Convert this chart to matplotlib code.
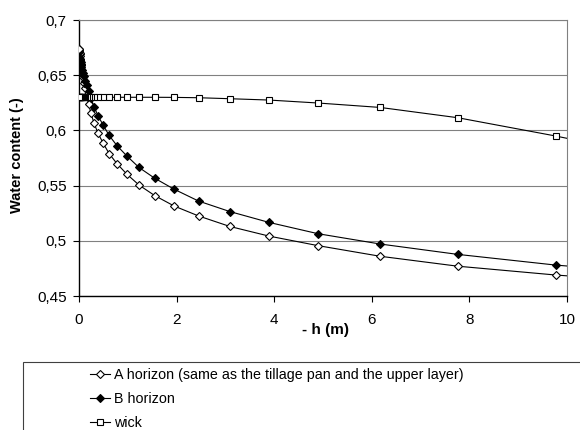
import matplotlib
matplotlib.use("Agg")
import matplotlib.pyplot as plt
from matplotlib.lines import Line2D
from matplotlib.patches import Rectangle
from matplotlib.ticker import FuncFormatter

# suction head -h (m); last point lies past the axis limit
H = [12.3, 9.77, 7.76, 6.17, 4.90, 3.89, 3.09, 2.45, 1.95, 1.55,
     1.23, 0.977, 0.776, 0.617, 0.490, 0.389, 0.309, 0.245, 0.195, 0.155,
     0.123, 0.0977, 0.0776, 0.0617, 0.0490, 0.0389, 0.0309, 0.0245, 0.0195, 0.0155,
     0.0123, 0.0098, 0.0078, 0.0062, 0.0049, 0.0039]

A_HORIZON = [0.461, 0.469, 0.477, 0.486, 0.4956, 0.5043, 0.513, 0.5225, 0.5315, 0.541,
             0.5505, 0.5605, 0.570, 0.579, 0.5888, 0.5975, 0.6064, 0.6155, 0.624, 0.632,
             0.638, 0.643, 0.648, 0.652, 0.656, 0.659, 0.662, 0.665, 0.667, 0.669,
             0.670, 0.671, 0.672, 0.673, 0.6735, 0.674]

B_HORIZON = [0.469, 0.478, 0.4877, 0.4971, 0.5064, 0.5167, 0.5265, 0.536, 0.5467, 0.5567,
             0.5664, 0.577, 0.5863, 0.5955, 0.6052, 0.6133, 0.6215, 0.629, 0.6355, 0.641,
             0.645, 0.649, 0.652, 0.655, 0.657, 0.659, 0.6605, 0.662, 0.663, 0.664,
             0.6645, 0.665, 0.6653, 0.6656, 0.6658, 0.666]

WICK = [0.572, 0.5949, 0.6115, 0.6208, 0.6248, 0.6275, 0.6287, 0.6296, 0.6299, 0.630,
        0.630, 0.630, 0.630, 0.630, 0.630, 0.630, 0.630, 0.630, 0.630, 0.630,
        0.630, 0.630, 0.630, 0.630, 0.630, 0.630, 0.630, 0.630, 0.630, 0.630,
        0.630, 0.630, 0.630, 0.630, 0.630, 0.630]

LABELS = ["A horizon (same as the tillage pan and the upper layer)",
          "B horizon",
          "wick"]

X_TICKS = [0, 2, 4, 6, 8, 10]
Y_TICKS = [0.45, 0.5, 0.55, 0.6, 0.65, 0.7]

plt.rcParams["font.family"] = ["Liberation Sans", "DejaVu Sans"]

fig = plt.figure(figsize=(5.8, 4.3), dpi=100)
ax = fig.add_axes([79 / 580, 1 - 296 / 430, (567 - 79) / 580, (296 - 20) / 430])

styles = [
    dict(marker="D", mfc="white", mec="black", ms=4.2),
    dict(marker="D", mfc="black", mec="black", ms=4.2),
    dict(marker="s", mfc="white", mec="black", ms=4.8),
]
series = [A_HORIZON, B_HORIZON, WICK]

for values, st in zip(series, styles):
    ax.plot(H, values, color="black", lw=0.8, mew=0.8, zorder=3, **st)

ax.set_xlim(0, 10)
ax.set_ylim(0.45, 0.7)
ax.set_xticks(X_TICKS)
ax.set_yticks(Y_TICKS)
ax.yaxis.set_major_formatter(FuncFormatter(lambda v, p: f"{v:g}".replace(".", ",")))
ax.tick_params(direction="out", length=4, width=0.8, labelsize=11, color="black")
ax.tick_params(axis="x", pad=8)
ax.tick_params(axis="y", pad=5)

ax.grid(axis="y", color="#808080", lw=0.8, zorder=1)
for side in ("top", "right"):
    ax.spines[side].set_color("#808080")
    ax.spines[side].set_linewidth(0.8)
for side in ("left", "bottom"):
    ax.spines[side].set_color("black")
    ax.spines[side].set_linewidth(1.0)

fig.text(17 / 580, 1 - 155 / 430, "Water content (-)", rotation=90,
         ha="center", va="center", fontsize=10.5, fontweight="bold")
fig.text(325 / 580, 1 - 330 / 430, "- h (m)", ha="center", va="center",
         fontsize=11, fontweight="bold")

# legend box runs off the right and bottom edges of the picture
fig.patches.append(Rectangle((23 / 580, -0.1), 1.0, (430 - 362) / 430 + 0.1,
                             transform=fig.transFigure, fill=False,
                             ec="#404040", lw=0.8))

handles = [Line2D([], [], color="black", lw=0.8, mew=0.8, **st) for st in styles]
fig.legend(handles, LABELS, loc="upper left",
           bbox_to_anchor=(86 / 580, 1 - 364 / 430), frameon=False,
           fontsize=10.3, handlelength=1.4, handletextpad=0.25, labelspacing=0.68,
           borderaxespad=0, borderpad=0.3)

fig.savefig("out.png", dpi=100)
